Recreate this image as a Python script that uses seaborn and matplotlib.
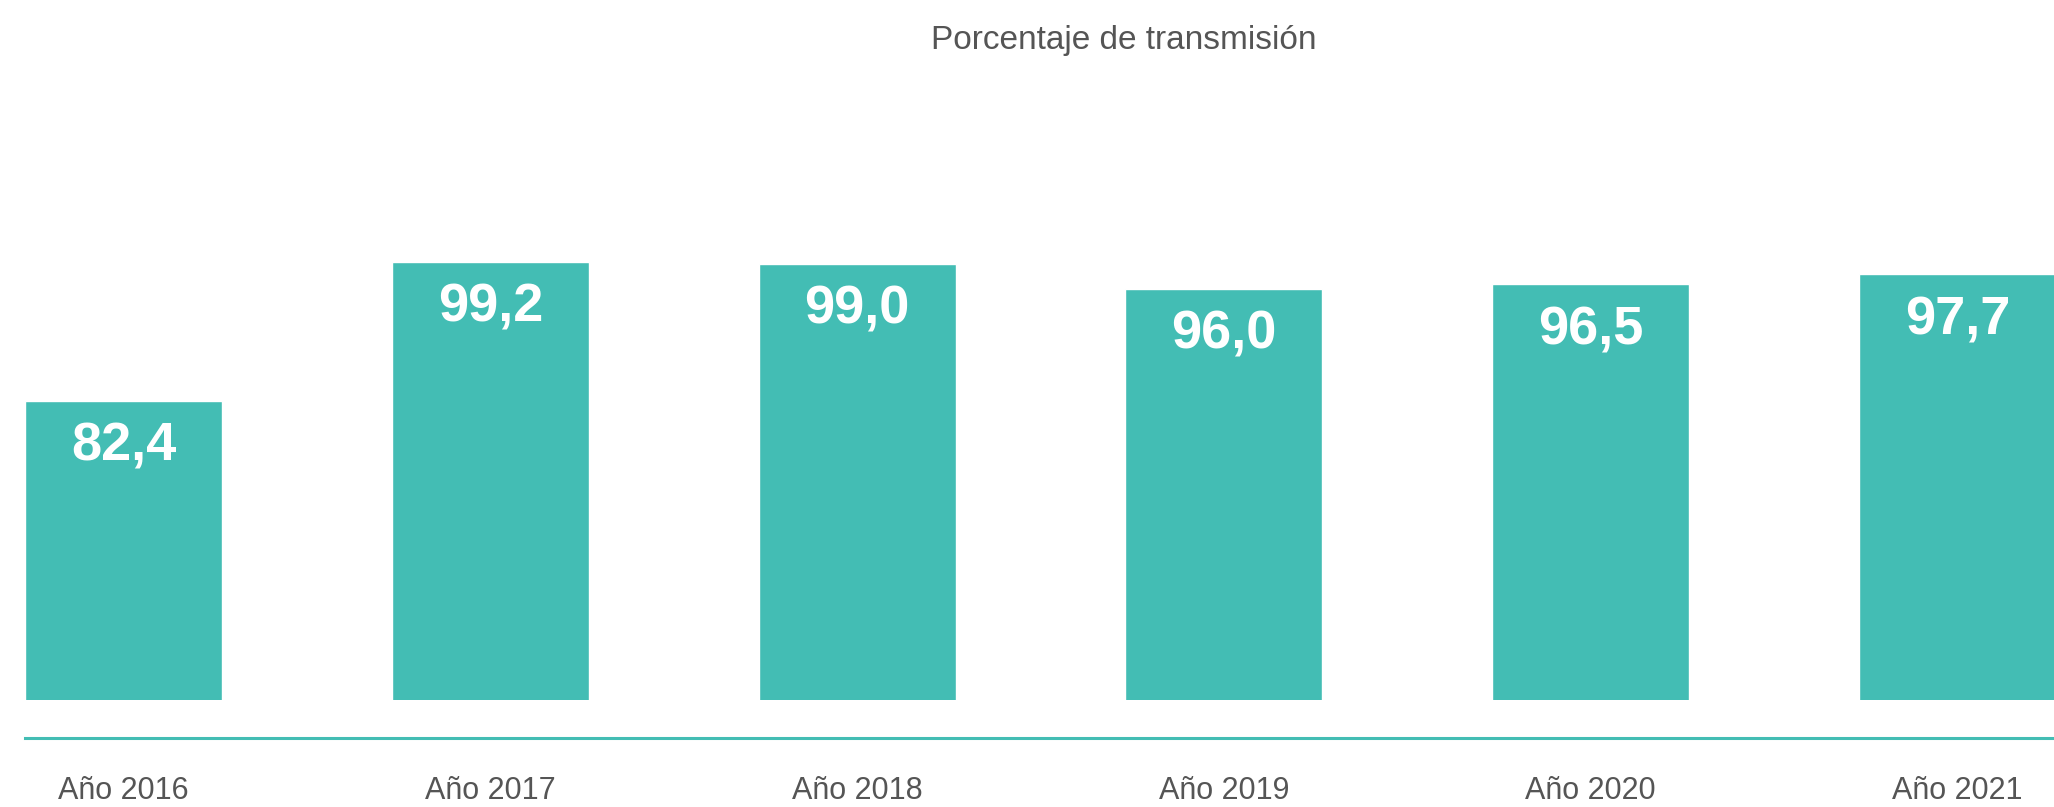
from __future__ import annotations

import matplotlib

matplotlib.use("Agg")

import matplotlib.pyplot as plt
import seaborn as sns

OUT_PATH = "out.png"

TITLE = "Porcentaje de transmisión"
YEARS = ["Año 2016", "Año 2017", "Año 2018", "Año 2019", "Año 2020", "Año 2021"]
VALUES = [82.4, 99.2, 99.0, 96.0, 96.5, 97.7]

TEAL = "#43BDB4"
GREY = "#555555"
Y_MIN = 46.3
Y_MAX = 123.6


def _fmt(v: float) -> str:
    return f"{v:.1f}".replace(".", ",")


def main() -> None:
    sns.set_theme(style="white")
    plt.rcParams["font.family"] = ["Liberation Sans", "DejaVu Sans"]

    fig = plt.figure(figsize=(20.54, 8.07), dpi=100)
    ax = fig.add_axes([25 / 2054, 1 - 700 / 807, 1 - 25 / 2054, 640 / 807])

    sns.barplot(x=YEARS, y=VALUES, color=TEAL, saturation=1, width=0.537, ax=ax)

    for i, v in enumerate(VALUES):
        ax.annotate(
            _fmt(v),
            xy=(i, v),
            xytext=(0, -33),
            textcoords="offset points",
            ha="center",
            va="center",
            color="white",
            fontsize=39,
            fontweight="bold",
        )

    ax.set_xlim(-0.2685, 5.263)
    ax.set_ylim(Y_MIN, Y_MAX)
    ax.set_xlabel("")
    ax.set_ylabel("")
    ax.set_yticks([])

    for side in ["top", "right", "left"]:
        ax.spines[side].set_visible(False)
    ax.spines["bottom"].set_position(("outward", 27.4))
    ax.spines["bottom"].set_color(TEAL)
    ax.spines["bottom"].set_linewidth(2.2)

    ax.tick_params(axis="x", length=0, pad=27, labelsize=22, labelcolor=GREY)

    fig.text(1124 / 2054, 1 - 40 / 807, TITLE, ha="center", va="center",
             fontsize=24, color=GREY)

    fig.savefig(OUT_PATH, dpi=100)
    plt.close(fig)


if __name__ == "__main__":
    main()
